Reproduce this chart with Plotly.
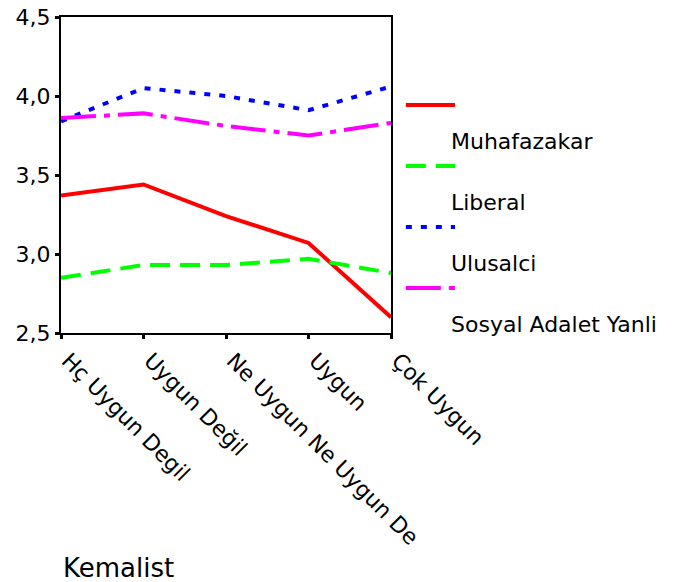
import plotly.graph_objects as go

categories = ["Hç Uygun Degil", "Uygun Değil", "Ne Uygun Ne Uygun De", "Uygun", "Çok Uygun"]
series_names = ["Muhafazakar", "Liberal", "Ulusalci", "Sosyal Adalet Yanli"]
muhafazakar = [3.37, 3.44, 3.24, 3.07, 2.60]
liberal = [2.85, 2.93, 2.93, 2.97, 2.88]
ulusalci = [3.84, 4.05, 4.00, 3.91, 4.06]
sosyal_adalet = [3.86, 3.89, 3.81, 3.75, 3.83]
y_tick_vals = [2.5, 3.0, 3.5, 4.0, 4.5]
y_tick_text = ["2,5", "3,0", "3,5", "4,0", "4,5"]
x_title = "Kemalist"

values = [muhafazakar, liberal, ulusalci, sosyal_adalet]
colors = ["#ff0000", "#00ff00", "#0000ff", "#ff00ff"]
dashes = ["solid", "20px,10px", "6px,9px", "35px,8px,6px,8px"]

FONT = "DejaVu Sans"
fig = go.Figure()
for name, vals, col, dsh in zip(series_names, values, colors, dashes):
    fig.add_trace(go.Scatter(
        x=categories, y=vals, mode="lines", name=name,
        line=dict(color=col, width=4, dash=dsh), showlegend=False,
    ))

# Legend drawn manually: swatch above, label offset below (as in the reference)
shapes = []
annotations = []
x0, x1, xt = 1.045, 1.194, 1.176
y_sw0, step, text_off = 0.7215, 0.193, 0.117
for i, (name, col, dsh) in enumerate(zip(series_names, colors, dashes)):
    ys = y_sw0 - i * step
    shapes.append(dict(type="line", xref="paper", yref="paper", x0=x0, x1=x1, y0=ys, y1=ys,
                       line=dict(color=col, width=4, dash=dsh)))
    annotations.append(dict(xref="paper", yref="paper", x=xt, y=ys - text_off, text=name,
                            showarrow=False, xanchor="left", yanchor="middle",
                            font=dict(family=FONT, size=22, color="black")))

annotations.append(dict(xref="paper", yref="paper", x=0.0, y=-0.744, text=x_title,
                        showarrow=False, xanchor="left", yanchor="middle",
                        font=dict(family=FONT, size=26, color="black")))

fig.update_layout(
    width=677, height=582,
    margin=dict(l=61, r=286, t=17, b=249, pad=0, autoexpand=False),
    paper_bgcolor="white", plot_bgcolor="white",
    shapes=shapes, annotations=annotations,
    font=dict(family=FONT, color="black"),
)
fig.update_xaxes(
    type="category", range=[0, 4], showgrid=False, zeroline=False, automargin=False,
    showline=True, linecolor="black", linewidth=2, mirror=True,
    ticks="outside", ticklen=4, tickwidth=3, tickcolor="black",
    tickangle=45, ticklabelshift=7, ticklabeloverflow="allow",
    tickfont=dict(family=FONT, size=22, color="black"),
)
fig.update_yaxes(
    range=[2.5, 4.5], showgrid=False, zeroline=False, automargin=False,
    showline=True, linecolor="black", linewidth=2, mirror=True,
    ticks="outside", ticklen=4, tickwidth=3, tickcolor="black",
    tickvals=y_tick_vals, ticktext=y_tick_text, ticklabeloverflow="allow",
    tickfont=dict(family=FONT, size=22, color="black"),
)
fig.write_html("out.html", config={"displayModeBar": False},
               post_script="document.body.style.margin='0';")
